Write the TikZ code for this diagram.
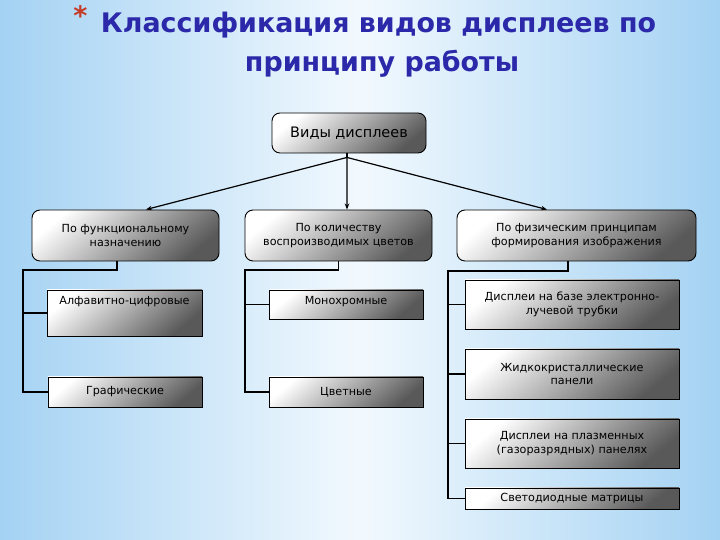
\documentclass[tikz,border=0pt]{standalone}
\usepackage{fontspec}
\setmainfont{DejaVu Sans}
\usetikzlibrary{arrows.meta}

\definecolor{titleblue}{RGB}{44,40,170}
\definecolor{starred}{RGB}{196,60,40}
\definecolor{skyedge}{RGB}{164,210,243}
\definecolor{skymid}{RGB}{242,249,254}

\tikzset{
  headline/.style={anchor=base,inner sep=0pt,text=titleblue,font=\fontsize{27}{32}\selectfont\bfseries},
  boxbase/.style={draw=black,line width=0.9bp,top color=white,bottom color=black!65,
    shading angle=40,align=center,inner sep=0pt},
  headbox/.style={boxbase,rounded corners=8bp,font=\fontsize{11.2}{14}\selectfont},
  itembox/.style={boxbase,font=\fontsize{11.2}{14}\selectfont},
  toptext/.style={text height=15bp,text depth=#1},
  link/.style={black,line width=1.2bp},
  toplink/.style={link,-{Stealth[length=6bp,width=4.5bp]}}
}

\begin{document}
\begin{tikzpicture}[x=1bp,y=1bp]
  \path[use as bounding box] (0,0) rectangle (720,540);
  \shade[left color=skyedge,right color=skyedge,middle color=skymid] (0,0) rectangle (720,540);

  \node[headline] (head1) at (378.5,507) {Классификация видов дисплеев по};
  \node[headline] (head2) at (382,468) {принципу работы};
  \node[headline,text=starred,anchor=base east] (star) at ([xshift=-13bp,yshift=7bp]head1.base west) {*};

  \node[headbox,minimum width=154bp,minimum height=40bp,font=\fontsize{14.5}{17}\selectfont]
    (root) at (349,407) {Виды дисплеев};

  \node[headbox,minimum width=187bp,minimum height=51bp] (func) at (125.5,304.5)
    {По функциональному\\назначению};
  \node[headbox,minimum width=187bp,minimum height=51bp] (count) at (338.5,304.5)
    {По количеству\\воспроизводимых цветов};
  \node[headbox,minimum width=239bp,minimum height=51bp] (phys) at (576.5,304.5)
    {По физическим принципам\\формирования изображения};

  \node[itembox,minimum width=155bp,toptext=31bp] (alpha) at (124.5,227) {Алфавитно-цифровые};
  \node[itembox,minimum width=154bp,minimum height=30bp] (graph) at (125,148) {Графические};
  \node[itembox,minimum width=154bp,toptext=14bp] (mono) at (346,235.5) {Монохромные};
  \node[itembox,minimum width=154bp,minimum height=30bp] (color) at (346,148) {Цветные};

  \node[itembox,minimum width=214bp,minimum height=49bp] (crt) at (572,235.5)
    {Дисплеи на базе электронно-\\лучевой трубки};
  \node[itembox,minimum width=214bp,minimum height=50bp] (lcd) at (572,166)
    {Жидкокристаллические\\панели};
  \node[itembox,minimum width=214bp,minimum height=49bp] (plasma) at (572,96.5)
    {Дисплеи на плазменных\\(газоразрядных) панелях};
  \node[itembox,minimum width=214bp,minimum height=21bp] (led) at (572,41.5)
    {Светодиодные матрицы};

  \coordinate (fork) at ([xshift=-2bp,yshift=-4bp]root.south);
  \draw[link] (root.south -| fork) -- (fork);
  \draw[toplink] (fork) -- ([xshift=20.5bp]func.north);
  \draw[toplink] (fork) -- ([xshift=8.5bp]count.north);
  \draw[toplink] (fork) -- ([xshift=-29.5bp]phys.north);

  \coordinate (funcbus) at (23,270);
  \coordinate (countbus) at (245,270);
  \coordinate (physbus) at (448,269);

  \draw[link] ([xshift=-8.5bp]func.south) |- (funcbus) |- (graph.west);
  \draw[link] (alpha.west) -- (alpha.west -| funcbus);

  \draw[link] (count.south) |- (countbus) |- (color.west);
  \draw[link] (mono.west) -- (mono.west -| countbus);

  \draw[link] ([xshift=-8.5bp]phys.south) |- (physbus) |- (led.west);
  \foreach \item in {crt,lcd,plasma}
    \draw[link] (\item.west) -- (\item.west -| physbus);
\end{tikzpicture}
\end{document}
